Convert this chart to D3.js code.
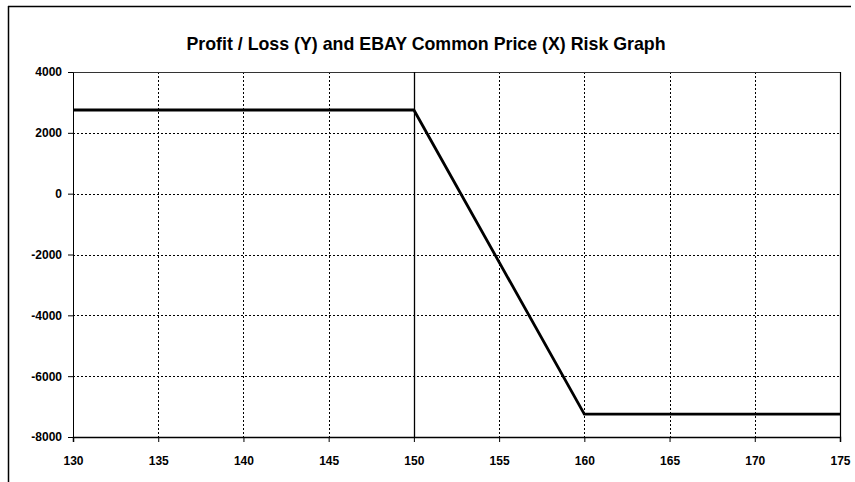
<!DOCTYPE html>
<html>
<head>
<meta charset="utf-8">
<script src="https://cdn.jsdelivr.net/npm/d3@7"></script>
<style>
  body { margin: 0; background: #fff; }
  svg { display: block; font-family: "Liberation Sans", Arial, sans-serif; }
  .grid line { stroke: #000; stroke-width: 1; stroke-dasharray: 2,2; }
  .axis text { font-size: 12px; font-weight: bold; fill: #000; }
  .axis path, .axis line { stroke: #000; }
</style>
</head>
<body>
<div id="chart"></div>
<script>
// risk graph breakpoints
let prices = [130, 150, 160, 175];
let profit = [2750, 2750, -7250, -7250];
let xTicks = [130, 135, 140, 145, 150, 155, 160, 165, 170, 175];
let yTicks = [-8000, -6000, -4000, -2000, 0, 2000, 4000];
let title = 'Profit / Loss (Y) and EBAY Common Price (X) Risk Graph';

let W = 855, H = 482;
let margin = {top: 72, right: 15, bottom: 45, left: 73};
let width = 840 - margin.left;
let height = 437 - margin.top;

let svg = d3.select('#chart').append('svg').attr('width', W).attr('height', H);

// outer frame (only top and left visible)
svg.append('line').attr('x1', 8).attr('x2', 851).attr('y1', 6.5).attr('y2', 6.5)
    .attr('stroke', '#000').attr('stroke-width', 1.5);
svg.append('line').attr('x1', 8.5).attr('x2', 8.5).attr('y1', 6).attr('y2', H)
    .attr('stroke', '#000').attr('stroke-width', 1.5);

svg.append('text').text(title)
    .attr('x', 426).attr('y', 50)
    .attr('text-anchor', 'middle')
    .style('font-size', '17.8px').style('font-weight', 'bold');

let g = svg.append('g').attr('transform', 'translate(' + margin.left + ',' + margin.top + ')');

let x = d3.scaleLinear().domain([130, 175]).range([0, width]);
let y = d3.scaleLinear().domain([-8000, 4000]).range([height, 0]);

// grid
let grid = g.append('g').attr('class', 'grid');
grid.selectAll('.gx').data(xTicks.slice(1, -1)).enter().append('line')
    .attr('x1', d => Math.round(x(d)) + 0.5).attr('x2', d => Math.round(x(d)) + 0.5)
    .attr('y1', 0).attr('y2', height);
grid.selectAll('.gy').data(yTicks.slice(1, -1)).enter().append('line')
    .attr('x1', 0).attr('x2', width)
    .attr('y1', d => Math.round(y(d)) + 0.5).attr('y2', d => Math.round(y(d)) + 0.5);

// plot border top / right
g.append('line').attr('x1', 0).attr('x2', width).attr('y1', 0.5).attr('y2', 0.5)
    .attr('stroke', '#333').attr('stroke-width', 1);
g.append('line').attr('x1', width + 0.5).attr('x2', width + 0.5).attr('y1', 0).attr('y2', height)
    .attr('stroke', '#000').attr('stroke-width', 1.2);

// vertical axis crossing at 150
g.append('line').attr('x1', Math.round(x(150)) + 0.5).attr('x2', Math.round(x(150)) + 0.5)
    .attr('y1', 0).attr('y2', height)
    .attr('stroke', '#000').attr('stroke-width', 1.3);

let fmt = d => String(d);

// axes
g.append('g').attr('class', 'axis')
    .attr('transform', 'translate(0,' + height + ')')
    .call(d3.axisBottom(x).tickValues(xTicks).tickSize(5).tickSizeOuter(5).tickPadding(14).tickFormat(fmt))
    .select('.domain').attr('stroke-width', 1.5);

g.append('g').attr('class', 'axis')
    .call(d3.axisLeft(y).tickValues(yTicks).tickSize(5).tickSizeOuter(0).tickPadding(6).tickFormat(fmt));

// data line
let line = d3.line().x((d, i) => x(prices[i])).y(d => y(d));
g.append('path').datum(profit)
    .attr('d', line)
    .attr('fill', 'none')
    .attr('stroke', '#000')
    .attr('stroke-width', 2.8);
</script>
</body>
</html>
